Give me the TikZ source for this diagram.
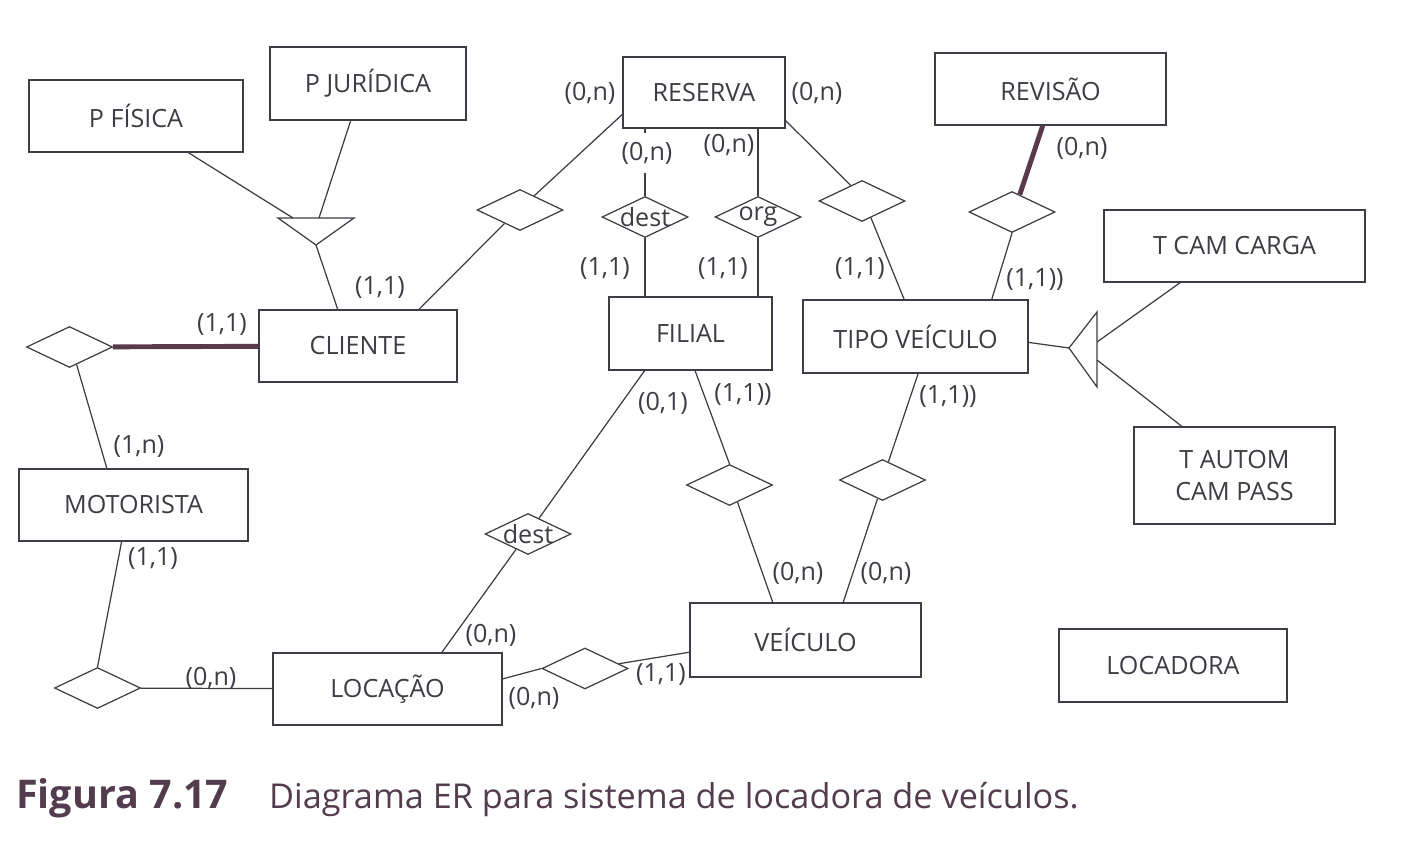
\documentclass[tikz,border=0pt]{standalone}
\usepackage{fontspec}
\setmainfont{Open Sans}
\usepackage{tikz}
\usetikzlibrary{shapes.geometric}

\definecolor{inkgray}{RGB}{62,60,68}
\definecolor{heavyink}{RGB}{88,58,74}
\definecolor{captionink}{RGB}{82,60,78}

\begin{document}
\begin{tikzpicture}[
      x=0.02cm, y=-0.02cm,
      every node/.style={font=\fontsize{14.3}{18.2}\selectfont, text=inkgray},
      entity/.style={draw=inkgray, fill=white, line width=0.8pt, inner sep=0pt, align=center},
      relation/.style={diamond, draw=inkgray, fill=white, line width=0.7pt,
        minimum width=1.72cm, minimum height=0.82cm, inner sep=0pt},
      link/.style={draw=inkgray, line width=0.7pt},
      heavy/.style={draw=heavyink, line width=2.8pt},
      card/.style={inner sep=1pt},
      caption/.style={anchor=base west, text=captionink},
    ]
    \useasboundingbox (0,0) rectangle (1405,857);

    % entities
    \node[entity, minimum width=4.28cm, minimum height=1.44cm] (pfisica)     at (136,116)    {P FÍSICA};
    \node[entity, minimum width=3.92cm, minimum height=1.46cm] (pjuridica)   at (368,83.5)   {P JURÍDICA};
    \node[entity, minimum width=3.96cm, minimum height=1.44cm] (cliente)     at (358,346)    {CLIENTE};
    \node[entity, minimum width=3.24cm, minimum height=1.42cm] (reserva)     at (704,92.5)   {RESERVA};
    \node[entity, minimum width=4.62cm, minimum height=1.44cm] (revisao)     at (1050.5,89)  {REVISÃO};
    \node[entity, minimum width=5.22cm, minimum height=1.44cm] (tcamcarga)   at (1234.5,246) {T CAM CARGA};
    \node[entity, minimum width=3.26cm, minimum height=1.46cm] (filial)      at (690.5,333.5){FILIAL};
    \node[entity, minimum width=4.50cm, minimum height=1.46cm] (tipoveiculo) at (915.5,336.5){TIPO VEÍCULO};
    \node[entity, minimum width=4.58cm, minimum height=1.44cm] (motorista)   at (133.5,505)  {MOTORISTA};
    \node[entity, minimum width=4.02cm, minimum height=1.94cm] (tautom)      at (1234.5,475.5){T AUTOM\\CAM PASS};
    \node[entity, minimum width=4.62cm, minimum height=1.48cm] (veiculo)     at (805.5,640)  {VEÍCULO};
    \node[entity, minimum width=4.58cm, minimum height=1.44cm] (locacao)     at (387.5,689)  {LOCAÇÃO};
    \node[entity, minimum width=4.56cm, minimum height=1.46cm] (locadora)    at (1173,665.5) {LOCADORA};

    % relationships
    \node[relation] (rclires)  at (520,210)   {};
    \node[relation, label={center:dest}] (rdestres) at (645,217) {};
    \node[relation, label={center:org}]  (rorgres)  at (758,217) {};
    \node[relation] (rrestipo) at (862,201)   {};
    \node[relation] (rrevtipo) at (1012,212)  {};
    \node[relation] (rmotcli)  at (69.5,347)  {};
    \node[relation] (rmotloc)  at (97.5,688)  {};
    \node[relation, label={center:dest}] (rdestloc) at (528,534) {};
    \node[relation] (rfilvei)  at (729.5,485) {};
    \node[relation] (rtipovei) at (882.5,480) {};
    \node[relation] (rlocvei)  at (585,668.5) {};

    % specialisation triangles
    \coordinate (isapa) at (278,218);
    \coordinate (isapb) at (354,218);
    \coordinate (isapc) at (316,245);
    \coordinate (isapl) at (293,218);
    \coordinate (isapr) at (319,218);
    \draw[link, fill=white] (isapa) -- (isapb) -- (isapc) -- cycle;

    \coordinate (isata) at (1097,312);
    \coordinate (isatb) at (1097,387);
    \coordinate (isatc) at (1069,348);
    \coordinate (isatu) at (1097,342);
    \coordinate (isatd) at (1097,360);
    \draw[link, fill=white] (isata) -- (isatb) -- (isatc) -- cycle;

    % connectors
    \path[link]
    (pfisica.-35)    edge (isapl)
    (pjuridica.-115) edge (isapr)
    (isapc)          edge (cliente.119)
    (cliente.31)     edge (rclires.-139)
    (rclires.45)     edge (reserva.-165)
    (reserva.south -| rdestres) edge (rdestres)
    (rdestres)       edge (filial.north -| rdestres)
    (reserva.south -| rorgres)  edge (rorgres)
    (rorgres)        edge (filial.north -| rorgres)
    (reserva.-19)    edge (rrestipo.126)
    (rrestipo.-62)   edge (tipoveiculo.107)
    (rrevtipo.south) edge (tipoveiculo.26)
    (tipoveiculo.-3) edge (isatc)
    (tcamcarga.-146) edge (isatu)
    (isatd)          edge (tautom.137)
    (filial.-141)    edge (rdestloc.55)
    (rdestloc.-128)  edge (locacao.34)
    (filial.-83)     edge (rfilvei.north)
    (rfilvei.-65)    edge (veiculo.131)
    (tipoveiculo.-86) edge (rtipovei.72)
    (rtipovei.-105)  edge (veiculo.45)
    (rmotcli.-68)    edge (motorista.126)
    (motorista.-108) edge (rmotloc.north)
    (rmotloc)        edge (locacao)
    (locacao.5)      edge (rlocvei.west)
    (rlocvei.8)      edge (veiculo.-174);

    \path[heavy]
    (rmotcli)        edge (cliente)
    (revisao.-102)   edge (rrevtipo.66);

    % cardinalities
    \node[card] (cclires)  at (380,288)  {(1,1)};
    \node[card] (cclimot)  at (222,325)  {(1,1)};
    \node[card] (cresl)    at (590,93)   {(0,n)};
    \node[card] (cresr)    at (817,93)   {(0,n)};
    \node[card, fill=white, inner ysep=5pt] (cresdest) at (647,153) {(0,n)};
    \node[card] (cresorg)  at (729,145)  {(0,n)};
    \node[card] (cfildest) at (605,269)  {(1,1)};
    \node[card] (cfilorg)  at (723,269)  {(1,1)};
    \node[card] (ctipores) at (860,269)  {(1,1)};
    \node[card] (ctiporev) at (1035,280) {(1,1))};
    \node[card] (crevtipo) at (1082,148) {(0,n)};
    \node[card] (cfilloc)  at (663,403)  {(0,1)};
    \node[card] (cfilvei)  at (743,395)  {(1,1))};
    \node[card] (ctipovei) at (948,397)  {(1,1))};
    \node[card] (cmotcli)  at (139,447)  {(1,n)};
    \node[card] (cmotloc)  at (153,559)  {(1,1)};
    \node[card] (clocmot)  at (211,678)  {(0,n)};
    \node[card] (clocdest) at (491,635)  {(0,n)};
    \node[card] (clocvei)  at (534,698)  {(0,n)};
    \node[card] (cveiloc)  at (661,675)  {(1,1)};
    \node[card] (cveifil)  at (798,573)  {(0,n)};
    \node[card] (cveitipo) at (886,573)  {(0,n)};

    % caption
    \node[caption, font=\fontsize{22.5}{26}\selectfont\bfseries] (fignum) at (10,808) {Figura 7.17};
    \node[caption, font=\fontsize{19.5}{24}\selectfont] (figtext) at (263,808)
      {Diagrama ER para sistema de locadora de veículos.};

  \end{tikzpicture}
\end{document}
